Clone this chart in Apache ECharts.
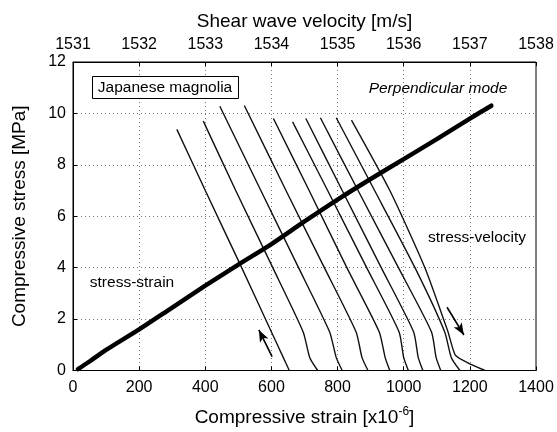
<!DOCTYPE html>
<html>
<head>
<meta charset="utf-8">
<script src="https://cdn.jsdelivr.net/npm/echarts@6/dist/echarts.min.js"></script>
<style>
html,body{margin:0;padding:0;background:#fff;}
#chart{width:557px;height:432px;}
</style>
</head>
<body>
<div id="chart"></div>
<script>
// ---- Data ----
const strainTicks = [0, 200, 400, 600, 800, 1000, 1200, 1400];
const velocityTicks = [1531, 1532, 1533, 1534, 1535, 1536, 1537, 1538];
const stressTicks = [0, 2, 4, 6, 8, 10, 12];

// stress-strain curve (strain x10^-6, stress MPa)
const ssStrain = [15, 50, 100, 200, 300, 400, 500, 600, 700, 800, 900, 1000, 1100, 1200, 1265];
const ssStress = [0.05, 0.35, 0.8, 1.6, 2.45, 3.3, 4.12, 4.92, 5.8, 6.65, 7.45, 8.22, 9.0, 9.8, 10.3];

// stress-velocity cycles: [velocity m/s, stress MPa]
const cycle1  = [[1532.57, 9.38], [1533.00, 7.0], [1533.55, 4.0], [1534.00, 1.5], [1534.18, 0.5], [1534.27, 0]];
const cycle2  = [[1532.97, 9.70], [1533.46, 7.0], [1534.02, 4.0], [1534.48, 1.5], [1534.58, 0.5], [1534.70, 0]];
const cycle3  = [[1533.22, 10.28], [1533.84, 7.0], [1534.41, 4.0], [1534.88, 1.5], [1534.98, 0.5], [1535.07, 0]];
const cycle4  = [[1533.59, 10.31], [1534.22, 7.0], [1534.80, 4.0], [1535.28, 1.5], [1535.37, 0.5], [1535.46, 0]];
const cycle5  = [[1534.03, 9.80], [1534.57, 7.0], [1535.14, 4.0], [1535.63, 1.5], [1535.72, 0.5], [1535.79, 0]];
const cycle6  = [[1534.32, 9.67], [1534.85, 7.0], [1535.44, 4.0], [1535.93, 1.5], [1536.00, 0.5], [1536.07, 0]];
const cycle7  = [[1534.52, 9.80], [1535.07, 7.0], [1535.66, 4.0], [1536.15, 1.5], [1536.22, 0.5], [1536.29, 0]];
const cycle8  = [[1534.74, 9.83], [1535.31, 7.0], [1535.92, 4.0], [1536.42, 1.5], [1536.49, 0.5], [1536.56, 0]];
const cycle9  = [[1534.98, 9.83], [1535.56, 7.0], [1536.17, 4.0], [1536.62, 1.5], [1536.72, 0.5], [1536.85, 0]];
const cycle10 = [[1535.21, 9.74], [1535.79, 7.0], [1536.32, 4.0], [1536.67, 1.5], [1536.78, 0.6], [1536.97, 0.3], [1537.23, 0]];
const cycles = [cycle1, cycle2, cycle3, cycle4, cycle5, cycle6, cycle7, cycle8, cycle9, cycle10];

// arrows in strain/stress coordinates: [tail, head]
const arrowUp = [[602, 0.54], [562, 1.58]];
const arrowDown = [[1131, 2.46], [1182, 1.38]];

// ---- Chart ----
const FONT = '"Liberation Sans", Arial, Helvetica, sans-serif';
const chart = echarts.init(document.getElementById('chart'), null, {renderer: 'canvas'});

const gridLine = {show: true, lineStyle: {color: '#777', type: [1, 3], width: 1}};
const plain = v => String(v);

const series = [];
cycles.forEach((c, i) => {
  series.push({
    type: 'line', xAxisIndex: 1, yAxisIndex: 0, data: c,
    showSymbol: false, symbol: 'none', smooth: 0.2,
    lineStyle: {color: '#111', width: 1.4}, silent: true, z: 3
  });
});
series.push({
  type: 'line', xAxisIndex: 0, yAxisIndex: 0,
  data: ssStrain.map((x, i) => [x, ssStress[i]]),
  showSymbol: false, symbol: 'none', smooth: 0.3,
  lineStyle: {color: '#000', width: 4.5, cap: 'round'}, silent: true, z: 4,
  markLine: {
    silent: true, symbol: ['none', 'arrow'], symbolSize: [7, 12],
    label: {show: false},
    lineStyle: {color: '#000', width: 1.6, type: 'solid'},
    data: [
      [{coord: arrowUp[0]}, {coord: arrowUp[1]}],
      [{coord: arrowDown[0]}, {coord: arrowDown[1]}]
    ]
  }
});

chart.setOption({
  animation: false,
  backgroundColor: '#fff',
  textStyle: {fontFamily: FONT},
  grid: {left: 73, top: 62, width: 463, height: 312, show: true, borderColor: '#000', borderWidth: 1, backgroundColor: 'transparent'},
  xAxis: [
    {
      type: 'value', position: 'bottom', min: 0, max: 1400, interval: 200,
      axisLine: {show: true, lineStyle: {color: '#000'}},
      axisTick: {show: true, inside: true, length: 4, lineStyle: {color: '#000'}},
      axisLabel: {color: '#000', fontSize: 16, margin: 9, fontFamily: FONT, formatter: plain},
      splitLine: gridLine,
      name: 'Compressive strain [x10{sup|-6}]', nameLocation: 'middle', nameGap: 35,
      nameTextStyle: {color: '#000', fontSize: 19, fontFamily: FONT,
        rich: {sup: {fontSize: 12, verticalAlign: 'top', padding: [0, 0, 12, 0], color: '#000', fontFamily: FONT}}}
    },
    {
      type: 'value', position: 'top', min: 1531, max: 1538, interval: 1,
      axisLine: {show: true, lineStyle: {color: '#000'}},
      axisTick: {show: true, inside: true, length: 4, lineStyle: {color: '#000'}},
      axisLabel: {color: '#000', fontSize: 16, margin: 9, fontFamily: FONT, formatter: plain},
      splitLine: {show: false},
      name: 'Shear wave velocity [m/s]', nameLocation: 'middle', nameGap: 31,
      nameTextStyle: {color: '#000', fontSize: 19, fontFamily: FONT}
    }
  ],
  yAxis: [
    {
      type: 'value', min: 0, max: 12, interval: 2,
      axisLine: {show: true, lineStyle: {color: '#000'}},
      axisTick: {show: true, inside: true, length: 4, lineStyle: {color: '#000'}},
      axisLabel: {color: '#000', fontSize: 16, margin: 7, fontFamily: FONT, formatter: plain},
      splitLine: gridLine,
      name: 'Compressive stress [MPa]', nameLocation: 'middle', nameGap: 44,
      nameTextStyle: {color: '#000', fontSize: 19, fontFamily: FONT}
    }
  ],
  graphic: [
    {type: 'rect', shape: {x: 92.5, y: 76.5, width: 146, height: 22}, style: {fill: '#fff', stroke: '#000', lineWidth: 1}, z: 10},
    {type: 'text', x: 165, y: 88, style: {text: 'Japanese magnolia', fill: '#000', font: '15.5px ' + FONT, textAlign: 'center', textVerticalAlign: 'middle'}, z: 11},
    {type: 'text', x: 438, y: 89, style: {text: 'Perpendicular mode', fill: '#000', font: 'italic 15.5px ' + FONT, textAlign: 'center', textVerticalAlign: 'middle'}, z: 11},
    {type: 'text', x: 132, y: 283, style: {text: 'stress-strain', fill: '#000', font: '15.5px ' + FONT, textAlign: 'center', textVerticalAlign: 'middle'}, z: 11},
    {type: 'text', x: 477, y: 238, style: {text: 'stress-velocity', fill: '#000', font: '15.5px ' + FONT, textAlign: 'center', textVerticalAlign: 'middle'}, z: 11}
  ],
  series: series
});
</script>
</body>
</html>
